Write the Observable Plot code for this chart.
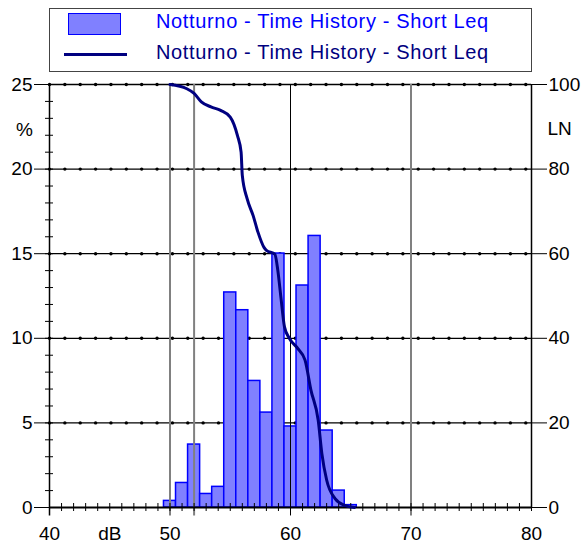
<!DOCTYPE html>
<html>
<head>
<meta charset="utf-8">
<script src="https://cdn.jsdelivr.net/npm/d3@7"></script>
<script src="https://cdn.jsdelivr.net/npm/@observablehq/plot@0.6"></script>
<style>
  html, body { margin: 0; padding: 0; background: white; }
  #wrap { position: relative; width: 585px; height: 544px; font-family: "Liberation Sans", Arial, sans-serif; }
  #legend { position: absolute; left: 49px; top: 8px; width: 481px; height: 62px; border: 1px solid #444; background: white; }
  .sw-rect { position: absolute; left: 18px; top: 4px; width: 51px; height: 20px; background: #8080ff; border: 1.5px solid #0000ff; }
  .sw-line { position: absolute; left: 14px; top: 44px; width: 63px; height: 3px; background: #000080; }
  .lt { position: absolute; left: 106px; font-size: 20px; letter-spacing: 0.65px; line-height: 22px; white-space: nowrap; }
  #chart { position: absolute; left: 0; top: 0; }
</style>
</head>
<body>
<div id="wrap">
  <div id="chart"></div>
  <div id="legend">
    <div class="sw-rect"></div>
    <div class="lt" style="top:1px;color:#0000ff">Notturno - Time History - Short Leq</div>
    <div class="sw-line"></div>
    <div class="lt" style="top:32px;color:#000080">Notturno - Time History - Short Leq</div>
  </div>
</div>
<script>
// Histogram: level (dB) and percentage of time (%)
const binLevels = [50, 51, 52, 53, 54, 55, 56, 57, 58, 59, 60, 61, 62, 63, 64, 65];
const binPercent = [0.39, 1.45, 3.72, 0.80, 1.22, 12.71, 11.66, 7.48, 5.61, 15.01, 4.79, 13.12, 16.05, 4.55, 1.00, 0.14];

// Cumulative LN curve: level (dB) and LN (%)
const lnLevels = [50.0, 51.4, 52.0, 52.6, 53.4, 54.2, 55.0, 55.6, 55.9, 56.0, 56.4, 56.9, 57.3, 57.8, 58.0, 58.7, 58.95, 59.2, 59.5, 59.9, 60.6, 61.2, 61.7, 62.3, 62.6, 63.0, 63.7, 64.5, 65.3];
const lnValues = [100, 99.0, 97.9, 95.9, 94.7, 93.9, 92.3, 87.9, 84.0, 78.5, 73.0, 69.0, 65.1, 61.5, 60.8, 59.9, 56.0, 49.8, 42.7, 40.0, 37.6, 34.9, 27.7, 20.6, 12.8, 6.5, 2.1, 0.5, 0];

// Tick labels
const xTickValues = [40, 50, 60, 70, 80];
const leftTickValues = [0, 5, 10, 15, 20, 25];
const rightTickLabels = [0, 20, 40, 60, 80, 100];
const xGridGray = [50, 52, 70];
const xGridBlack = [60];
const yGrid = [5, 10, 15, 20, 25];

const bars = binLevels.map((l, i) => ({level: l, pct: binPercent[i]}));
const ln = lnLevels.map((l, i) => ({level: l, ln: lnValues[i]}));
const dotXs = d3.range(32).map(k => 40 + k * 1.275);
const dots = d3.cross(dotXs, yGrid).map(([x, y]) => ({x, y}));

const chart = Plot.plot({
  width: 585,
  height: 544,
  marginLeft: 49,
  marginRight: 54,
  marginTop: 84,
  marginBottom: 37,
  x: {domain: [40, 80]},
  y: {domain: [0, 25]},
  style: {fontFamily: "'Liberation Sans', Arial, sans-serif", fontSize: "19px", color: "black", background: "white", overflow: "visible"},
  marks: [
    Plot.ruleY(yGrid, {x1: 40, x2: 80, stroke: "black", strokeWidth: 1.3}),
    Plot.dot(dots, {x: "x", y: "y", r: 1.7, fill: "black", stroke: null}),
    Plot.rectY(bars, {x1: d => d.level - 0.5, x2: d => d.level + 0.5, y: "pct", fill: "#8080ff", stroke: "#0000ff", strokeWidth: 1.5}),
    Plot.ruleX(xGridGray, {y1: -0.5, y2: 25, stroke: "#808080", strokeWidth: 2}),
    Plot.ruleX(xGridBlack, {y1: -0.5, y2: 25, stroke: "black", strokeWidth: 1}),
    Plot.ruleX([40], {y1: -0.5, y2: 25, stroke: "black", strokeWidth: 1.5}),
    Plot.ruleX([80], {y1: 0, y2: 25, stroke: "black", strokeWidth: 1.5}),
    Plot.ruleY([0], {x1: 40, x2: 80, stroke: "black", strokeWidth: 2}),
    Plot.axisY(d3.range(0, 26), {anchor: "left", tickSize: 8, dx: 4, tickFormat: () => "", label: null}),
    Plot.axisY(leftTickValues, {anchor: "left", tickSize: 15, tickPadding: 2, label: null, fontSize: 19}),
    Plot.axisY(leftTickValues, {anchor: "right", tickSize: 15, tickPadding: 2, label: null, fontSize: 19,
      tickFormat: d => rightTickLabels[leftTickValues.indexOf(d)]}),
    Plot.axisX(d3.range(40, 81), {anchor: "bottom", tickSize: 8, dy: -4, tickFormat: () => "", label: null}),
    Plot.axisX(xTickValues, {anchor: "bottom", tickSize: 0, tickPadding: 19, label: null, fontSize: 19}),
    Plot.text(["%"], {x: 40, y: 22.3, dx: -25, text: d => d, fontSize: 19}),
    Plot.text(["LN"], {x: 80, y: 22.4, dx: 16, text: d => d, textAnchor: "start", fontSize: 19}),
    Plot.text(["dB"], {x: 45, y: 0, dy: 26, text: d => d, fontSize: 19}),
    Plot.line(ln, {x: "level", y: d => d.ln / 4, stroke: "#000080", strokeWidth: 3, curve: "monotone-x"})
  ]
});
document.getElementById("chart").appendChild(chart);
</script>
</body>
</html>
